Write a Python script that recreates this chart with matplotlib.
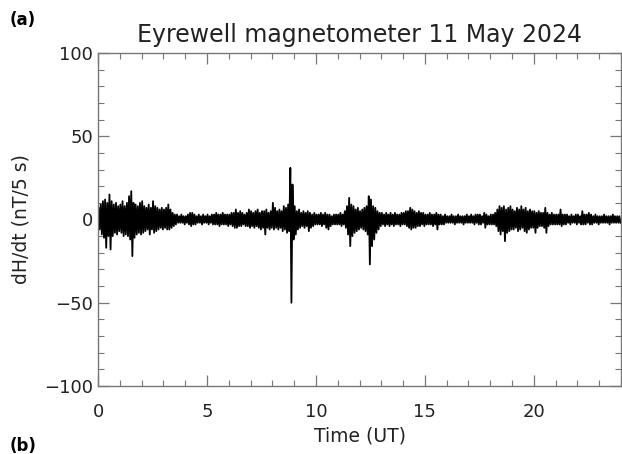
import numpy as np
import matplotlib
matplotlib.use("Agg")
import matplotlib.pyplot as plt
from matplotlib.ticker import MultipleLocator

# dH/dt envelope, one pair of peaks per 0.1 h bin (nT/5 s)
bin_hours = 0.1
peak_hi = [
    7, 9, 11, 12, 10, 15, 11, 9, 10, 8,      # 0 h
    9, 11, 8, 10, 14, 17, 10, 9, 8, 10,      # 1 h
    11, 8, 7, 9, 7, 11, 8, 7, 6, 7,          # 2 h
    6, 7, 9, 6, 4, 3, 3, 2, 3, 2,            # 3 h
    2, 3, 4, 4, 3, 2, 3, 2, 3, 2,            # 4 h
    3, 2, 3, 3, 4, 3, 3, 4, 3, 3,            # 5 h
    3, 4, 4, 6, 4, 5, 4, 3, 4, 6,            # 6 h
    5, 4, 5, 6, 4, 5, 5, 6, 4, 5,            # 7 h
    10, 7, 5, 6, 5, 8, 7, 9, 31, 21,         # 8 h
    8, 5, 6, 4, 5, 4, 5, 4, 3, 4,            # 9 h
    3, 3, 4, 3, 4, 3, 3, 2, 3, 3,            # 10 h
    3, 4, 3, 5, 8, 13, 9, 8, 6, 7,           # 11 h
    5, 6, 7, 8, 14, 12, 8, 7, 5, 4,          # 12 h
    4, 3, 4, 3, 4, 3, 4, 3, 3, 4,            # 13 h
    4, 5, 5, 7, 6, 5, 4, 5, 4, 4,            # 14 h
    3, 3, 4, 3, 3, 4, 3, 3, 2, 3,            # 15 h
    2, 2, 3, 2, 2, 3, 2, 2, 2, 3,            # 16 h
    2, 3, 2, 3, 3, 3, 2, 4, 3, 2,            # 17 h
    3, 3, 4, 6, 8, 7, 8, 6, 7, 8,            # 18 h
    6, 5, 7, 6, 8, 6, 7, 5, 6, 5,            # 19 h
    5, 4, 5, 4, 4, 7, 4, 3, 4, 3,            # 20 h
    3, 3, 6, 3, 3, 3, 2, 3, 2, 3,            # 21 h
    3, 2, 5, 3, 3, 4, 3, 2, 3, 2,            # 22 h
    2, 2, 3, 2, 2, 2, 3, 2, 2, 2,            # 23 h
]
peak_lo = [
    -6, -9, -11, -17, -10, -18, -10, -8, -9, -7,
    -8, -10, -9, -10, -12, -22, -11, -9, -8, -9,
    -8, -7, -6, -9, -6, -8, -7, -6, -5, -6,
    -5, -6, -6, -5, -4, -3, -2, -2, -2, -3,
    -2, -3, -4, -3, -3, -2, -2, -3, -2, -2,
    -3, -2, -3, -3, -3, -4, -3, -3, -3, -4,
    -3, -4, -5, -5, -4, -4, -3, -4, -4, -5,
    -4, -5, -4, -5, -6, -5, -9, -5, -6, -5,
    -6, -5, -6, -5, -7, -6, -8, -7, -50, -12,
    -9, -6, -5, -4, -5, -4, -7, -5, -4, -3,
    -3, -3, -4, -3, -5, -6, -4, -3, -3, -3,
    -3, -4, -3, -5, -9, -16, -10, -8, -7, -6,
    -5, -6, -7, -9, -27, -16, -12, -8, -6, -4,
    -3, -4, -3, -4, -3, -4, -3, -3, -4, -3,
    -3, -4, -5, -6, -5, -5, -4, -4, -3, -4,
    -3, -3, -3, -4, -3, -6, -3, -3, -3, -2,
    -2, -2, -2, -3, -2, -2, -2, -3, -2, -2,
    -2, -2, -3, -2, -3, -3, -2, -5, -3, -3,
    -3, -3, -4, -7, -9, -7, -13, -8, -7, -6,
    -6, -5, -7, -6, -5, -7, -8, -6, -5, -5,
    -8, -5, -4, -4, -5, -8, -4, -3, -3, -3,
    -3, -3, -4, -3, -3, -2, -3, -2, -2, -3,
    -2, -3, -3, -3, -2, -3, -3, -2, -2, -3,
    -2, -2, -2, -2, -3, -2, -2, -2, -2, -2,
]

x_ticks = [0, 5, 10, 15, 20]
y_ticks = [-100, -50, 0, 50, 100]

# interleave the two peaks of each bin into one trace
n = len(peak_hi)
t = np.empty(2 * n)
v = np.empty(2 * n)
t[0::2] = np.arange(n) * bin_hours + 0.025
t[1::2] = np.arange(n) * bin_hours + 0.075
v[0::2] = peak_hi
v[1::2] = peak_lo

plt.rcParams['font.family'] = ['DejaVu Sans']
fig = plt.figure(figsize=(6.22, 4.54), dpi=100)
ax = fig.add_axes([0.1576, 0.1498, 0.8408, 0.7335])

ax.plot(t, v, color='black', lw=1.3)

ax.set_xlim(0, 24)
ax.set_ylim(-100, 100)
ax.set_xticks(x_ticks)
ax.set_yticks(y_ticks)
ax.xaxis.set_minor_locator(MultipleLocator(1))
ax.yaxis.set_minor_locator(MultipleLocator(10))
ax.tick_params(which='both', direction='in', top=True, right=True,
               color='#777777', labelsize=13, labelcolor='#222222')
ax.tick_params(which='major', length=8, width=0.9)
ax.tick_params(which='minor', length=4, width=0.8)
ax.tick_params(axis='x', pad=12)
for s in ax.spines.values():
    s.set_color('#777777')
    s.set_linewidth(1)

ax.set_title('Eyrewell magnetometer 11 May 2024', fontsize=17,
             color='#222222', pad=8)
ax.set_xlabel('Time (UT)', fontsize=13.5, color='#222222', labelpad=4)
ax.set_ylabel('dH/dt (nT/5 s)', fontsize=13.5, color='#222222', labelpad=10)

fig.text(0.016, 0.956, '(a)', fontsize=12, fontweight='bold', va='center')
fig.text(0.016, 0.017, '(b)', fontsize=12, fontweight='bold', va='center')

fig.savefig('out.png', dpi=100)
